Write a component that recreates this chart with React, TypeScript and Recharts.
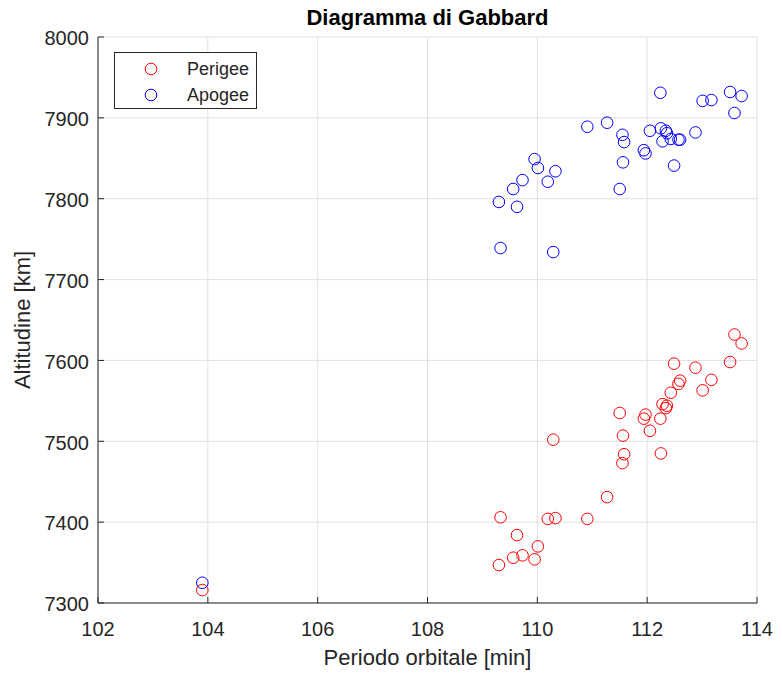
import React from 'react';
import {
  ScatterChart,
  Scatter,
  XAxis,
  YAxis,
  CartesianGrid,
  Legend,
} from 'recharts';

// periodo orbitale [min] di ciascun oggetto
const periods = [
  103.9, 109.3, 109.33, 109.56, 109.63, 109.73, 109.95, 110.01, 110.19, 110.29,
  110.33, 110.91, 111.27, 111.5, 111.55, 111.56, 111.58, 111.94, 111.97, 112.05,
  112.24, 112.25, 112.28, 112.34, 112.36, 112.43, 112.49, 112.57, 112.6, 112.88,
  113.01, 113.17, 113.51, 113.59, 113.72,
];

// altitudine al perigeo [km]
const perigee = [
  7316, 7347, 7406, 7356, 7384, 7359, 7354, 7370, 7404, 7502,
  7405, 7404, 7431, 7535, 7473, 7507, 7484, 7528, 7533, 7513,
  7528, 7485, 7546, 7541, 7544, 7560, 7596, 7571, 7575, 7591,
  7563, 7576, 7598, 7632, 7621,
];

// altitudine all'apogeo [km]
const apogee = [
  7325, 7796, 7739, 7812, 7790, 7823, 7849, 7838, 7821, 7734,
  7834, 7889, 7894, 7812, 7879, 7845, 7870, 7860, 7856, 7884,
  7931, 7887, 7871, 7884, 7881, 7874, 7841, 7873, 7873, 7882,
  7921, 7922, 7932, 7906, 7927,
];

const xTicks = [102, 104, 106, 108, 110, 112, 114];
const yTicks = [7300, 7400, 7500, 7600, 7700, 7800, 7900, 8000];

const FONT = '"Liberation Sans", Arial, Helvetica, sans-serif';
const INK = '#262626';
const TICK_LEN = 6;

const perigeeData = periods.map((p, i) => ({ x: p, y: perigee[i] }));
const apogeeData = periods.map((p, i) => ({ x: p, y: apogee[i] }));

const ring = (color: string) => (props: any) => (
  <circle cx={props.cx} cy={props.cy} r={5.8} fill="none" stroke={color} strokeWidth={1} />
);

const BottomTick = (props: any) => {
  const { x, y, payload } = props;
  return (
    <g>
      <line x1={x} y1={y} x2={x} y2={y - TICK_LEN} stroke={INK} />
      <text x={x} y={y + 33} textAnchor="middle" fontSize={20} fontFamily={FONT} fill={INK}>
        {payload.value}
      </text>
    </g>
  );
};

const LeftTick = (props: any) => {
  const { x, y, payload } = props;
  return (
    <g>
      <line x1={x} y1={y} x2={x + TICK_LEN} y2={y} stroke={INK} />
      <text x={x - 9} y={y + 8.3} textAnchor="end" fontSize={20} fontFamily={FONT} fill={INK}>
        {payload.value}
      </text>
    </g>
  );
};

const TopTick = (props: any) => {
  const { x, y } = props;
  return <line x1={x} y1={y} x2={x} y2={y + TICK_LEN} stroke={INK} />;
};

const RightTick = (props: any) => {
  const { x, y } = props;
  return <line x1={x} y1={y} x2={x - TICK_LEN} y2={y} stroke={INK} />;
};

const YLabel = (props: any) => {
  const vb = props.viewBox || {};
  const cy = vb.y + vb.height / 2;
  const cx = 29.5;
  return (
    <text
      x={cx}
      y={cy}
      transform={`rotate(-90, ${cx}, ${cy})`}
      textAnchor="middle"
      fontSize={22}
      fontFamily={FONT}
      fill={INK}
    >
      Altitudine [km]
    </text>
  );
};

const LegendBox = () => (
  <div
    style={{
      width: 143,
      height: 57,
      boxSizing: 'border-box',
      border: `1px solid ${INK}`,
      background: '#fff',
      position: 'relative',
      fontFamily: FONT,
      fontSize: 18,
      color: INK,
    }}
  >
    {[
      { name: 'Perigee', color: '#ff0000', top: 16 },
      { name: 'Apogee', color: '#0000ff', top: 42 },
    ].map((e) => (
      <div key={e.name}>
        <svg width={16} height={16} style={{ position: 'absolute', left: 28, top: e.top - 8 }}>
          <circle cx={8} cy={8} r={5.8} fill="none" stroke={e.color} strokeWidth={1} />
        </svg>
        <span style={{ position: 'absolute', left: 72, top: e.top - 11, lineHeight: '22px' }}>
          {e.name}
        </span>
      </div>
    ))}
  </div>
);

export default function App() {
  return (
    <div style={{ position: 'absolute', left: 0, top: 0, width: 782, height: 675, background: '#fff' }}>
      <div
        style={{
          position: 'absolute',
          left: 98,
          width: 659,
          top: 7,
          textAlign: 'center',
          fontFamily: FONT,
          fontWeight: 'bold',
          fontSize: 22,
          lineHeight: '22px',
          color: '#000',
        }}
      >
        Diagramma di Gabbard
      </div>
      <ScatterChart width={782} height={675} margin={{ top: 37, right: 25, bottom: 0, left: 0 }}>
        <CartesianGrid stroke="#e0e0e0" />
        <XAxis
          type="number"
          dataKey="x"
          domain={[102, 114]}
          ticks={xTicks}
          allowDataOverflow
          height={72}
          stroke={INK}
          tickLine={false}
          tickSize={0}
          tickMargin={0}
          tick={<BottomTick />}
          interval={0}
          label={{
            value: 'Periodo orbitale [min]',
            position: 'insideBottom',
            offset: 10,
            fontSize: 22,
            fontFamily: FONT,
            fill: INK,
          }}
        />
        <XAxis
          xAxisId="top"
          orientation="top"
          type="number"
          domain={[102, 114]}
          ticks={xTicks}
          allowDataOverflow
          height={0}
          stroke={INK}
          tickLine={false}
          tickSize={0}
          tickMargin={0}
          tick={<TopTick />}
          interval={0}
        />
        <YAxis
          type="number"
          dataKey="y"
          domain={[7300, 8000]}
          ticks={yTicks}
          allowDataOverflow
          width={98}
          stroke={INK}
          tickLine={false}
          tickSize={0}
          tickMargin={0}
          tick={<LeftTick />}
          interval={0}
          label={<YLabel />}
        />
        <YAxis
          yAxisId="right"
          orientation="right"
          type="number"
          domain={[7300, 8000]}
          ticks={yTicks}
          allowDataOverflow
          width={0}
          stroke={INK}
          tickLine={false}
          tickSize={0}
          tickMargin={0}
          tick={<RightTick />}
          interval={0}
        />
        <Legend
          layout="vertical"
          align="center"
          verticalAlign="middle"
          wrapperStyle={{ left: 114, top: 52, width: 143 }}
          content={<LegendBox />}
        />
        <Scatter name="Perigee" data={perigeeData} shape={ring('#ff0000')} isAnimationActive={false} />
        <Scatter name="Apogee" data={apogeeData} shape={ring('#0000ff')} isAnimationActive={false} />
      </ScatterChart>
    </div>
  );
}
